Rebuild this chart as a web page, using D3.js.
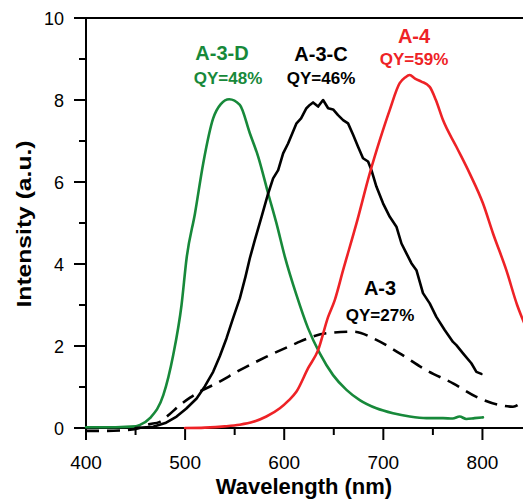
<!DOCTYPE html>
<html>
<head>
<meta charset="utf-8">
<script src="https://cdn.jsdelivr.net/npm/d3@7"></script>
<style>
  body { margin: 0; background: #fff; }
  svg { display: block; font-family: "Liberation Sans", Arial, sans-serif; }
</style>
</head>
<body>
<svg id="chart" width="523" height="502"></svg>
<script>
// A-3-D (green)
const greenX = [400, 430, 450, 454, 464.5, 478, 488, 496.4, 501.5, 510, 518.3, 528.3, 536, 544.5, 555.2, 565.3, 573.7, 583.8, 592.2, 600.6, 612.4, 624.1, 635.9, 649.3, 662.8, 676.2, 693, 709.8, 726.6, 743.4, 760.2, 770, 777, 783.7, 792, 800.5];
const greenY = [0.02, 0.02, 0.04, 0.07, 0.24, 0.8, 1.78, 3.0, 4.14, 5.24, 6.46, 7.55, 7.9, 8.02, 7.88, 7.19, 6.62, 5.72, 4.99, 4.18, 3.24, 2.43, 1.82, 1.29, 0.93, 0.68, 0.48, 0.36, 0.28, 0.24, 0.24, 0.23, 0.28, 0.22, 0.24, 0.26];

// A-3-C (black, noisy)
const blackX = [450, 467.8, 480, 491.4, 501, 511.6, 520, 528.3, 535, 541.8, 548, 555.2, 561, 565.3, 570.4, 577.1, 583.8, 588.8, 593.9, 598.9, 603.9, 612.4, 617, 622.4, 625.8, 629.1, 634.2, 639.2, 644.3, 649.3, 654.3, 659.4, 664.4, 669.5, 674.5, 679.5, 684.6, 688, 693, 699.7, 706.5, 713.2, 718.3, 723.3, 728.3, 733.4, 740, 746.8, 753.5, 761.9, 770.3, 773.7, 780.4, 788.8, 793.9, 798.9];
const blackY = [0, 0.03, 0.12, 0.28, 0.47, 0.72, 1.02, 1.37, 1.75, 2.19, 2.65, 3.16, 3.7, 4.14, 4.59, 5.15, 5.72, 6.09, 6.29, 6.7, 6.94, 7.43, 7.55, 7.8, 7.88, 7.94, 7.84, 8.0, 7.8, 7.77, 7.63, 7.51, 7.43, 7.15, 6.86, 6.58, 6.5, 6.29, 5.89, 5.48, 5.15, 4.91, 4.5, 4.26, 4.02, 3.85, 3.29, 3.04, 2.71, 2.39, 2.1, 2.02, 1.82, 1.58, 1.37, 1.32];

// A-4 (red)
const redX = [500, 520, 540, 555, 568.7, 582, 595.6, 604, 612.4, 624.1, 634.2, 644.3, 651, 659.4, 672.9, 686.3, 696.4, 706.5, 716.5, 722, 726.6, 732, 738.4, 746.8, 753, 760.2, 773.7, 787.1, 800.5, 810.6, 824.1, 835, 845];
const redY = [0, 0.01, 0.04, 0.08, 0.15, 0.28, 0.48, 0.66, 0.89, 1.46, 1.9, 2.71, 3.12, 3.85, 4.99, 6.21, 7.02, 7.76, 8.41, 8.55, 8.61, 8.52, 8.45, 8.32, 8.0, 7.51, 6.86, 6.21, 5.48, 4.75, 3.85, 3.0, 2.4];

// A-3 (black dashed)
const dashX = [400, 420, 441, 454, 462, 474.6, 484, 494.8, 505, 515, 531.8, 555.2, 582.2, 612.4, 624.1, 642.6, 669.5, 693, 716.5, 743.4, 770.3, 793.9, 817.3, 830.8, 840.5, 850];
const dashY = [-0.07, -0.07, -0.05, 0, 0.08, 0.15, 0.33, 0.56, 0.74, 0.89, 1.09, 1.41, 1.74, 2.07, 2.19, 2.31, 2.35, 2.15, 1.82, 1.41, 1.09, 0.76, 0.56, 0.52, 0.64, 0.8];

const xMajor = [400, 500, 600, 700, 800];
const xMinor = [450, 550, 650, 750, 850];
const yMajor = [0, 2, 4, 6, 8, 10];
const yMinor = [1, 3, 5, 7, 9];

const svg = d3.select('#chart');
const L = 86, T = 18, B = 428, R = 532;

const x = d3.scaleLinear().domain([400, 850]).range([L, R]);
const y = d3.scaleLinear().domain([0, 10]).range([B, T]);

const green = '#17893a';
const red = '#ee2226';

// frame
const axisG = svg.append('g').attr('stroke', '#000').attr('stroke-width', 2);
axisG.append('line').attr('x1', L).attr('x2', L).attr('y1', T).attr('y2', B);
axisG.append('line').attr('x1', L - 12).attr('x2', R).attr('y1', B).attr('y2', B);
axisG.append('line').attr('x1', L - 12).attr('x2', R).attr('y1', T).attr('y2', T);
axisG.append('line').attr('x1', R).attr('x2', R).attr('y1', T).attr('y2', B);

axisG.selectAll('.xmaj').data(xMajor).join('line')
  .attr('x1', d => x(d)).attr('x2', d => x(d)).attr('y1', B).attr('y2', B + 12);
axisG.selectAll('.xmin').data(xMinor).join('line')
  .attr('x1', d => x(d)).attr('x2', d => x(d)).attr('y1', B).attr('y2', B + 7);
axisG.selectAll('.ymaj').data(yMajor).join('line')
  .attr('x1', L - 12).attr('x2', L).attr('y1', d => y(d)).attr('y2', d => y(d));
axisG.selectAll('.ymin').data(yMinor).join('line')
  .attr('x1', L - 7).attr('x2', L).attr('y1', d => y(d)).attr('y2', d => y(d));

svg.append('g').selectAll('text').data(xMajor).join('text')
  .attr('x', d => x(d)).attr('y', 469)
  .attr('text-anchor', 'middle').attr('font-size', 19)
  .text(d => d);

svg.append('g').selectAll('text').data(yMajor).join('text')
  .attr('x', 64).attr('y', d => y(d) + 6.5)
  .attr('text-anchor', 'end').attr('font-size', 18)
  .text(d => d);

svg.append('text')
  .attr('x', 304).attr('y', 494)
  .attr('text-anchor', 'middle').attr('font-size', 22).attr('font-weight', 'bold')
  .text('Wavelength (nm)');

svg.append('text')
  .attr('transform', 'translate(31,224) rotate(-90)')
  .attr('text-anchor', 'middle').attr('font-size', 21).attr('font-weight', 'bold')
  .attr('textLength', 167).attr('lengthAdjust', 'spacingAndGlyphs')
  .text('Intensity (a.u.)');

// curves
const line = d3.line().x(d => x(d[0])).y(d => y(d[1])).curve(d3.curveMonotoneX);
const zip = (a, b) => a.map((v, i) => [v, b[i]]);

const curves = svg.append('g').attr('fill', 'none').attr('stroke-width', 2.6)
  .attr('stroke-linejoin', 'round').attr('stroke-linecap', 'round');

curves.append('path').attr('d', line(zip(dashX, dashY)))
  .attr('stroke', '#000').attr('stroke-dasharray', '13,8').attr('stroke-linecap', 'butt');
curves.append('path').attr('d', line(zip(greenX, greenY))).attr('stroke', green);
curves.append('path').attr('d', d3.line().x(d => x(d[0])).y(d => y(d[1]))(zip(blackX, blackY))).attr('stroke', '#000');
curves.append('path').attr('d', line(zip(redX, redY))).attr('stroke', red);

// labels
const labels = [
  { name: 'A-3-D', qy: 'QY=48%', color: green, cx: 222, y1: 60, y2: 84 },
  { name: 'A-3-C', qy: 'QY=46%', color: '#000', cx: 321, y1: 61, y2: 84 },
  { name: 'A-4', qy: 'QY=59%', color: red, cx: 414, y1: 43, y2: 65 },
  { name: 'A-3', qy: 'QY=27%', color: '#000', cx: 380, y1: 295, y2: 321 }
];
const lab = svg.append('g').attr('font-weight', 'bold').attr('text-anchor', 'middle');
labels.forEach(d => {
  lab.append('text').attr('x', d.cx).attr('y', d.y1).attr('font-size', 20).attr('fill', d.color).text(d.name);
  lab.append('text').attr('x', d.cx + (d.name === 'A-3-D' ? 6 : 0)).attr('y', d.y2).attr('font-size', 17).attr('fill', d.color).text(d.qy);
});
</script>
</body>
</html>
